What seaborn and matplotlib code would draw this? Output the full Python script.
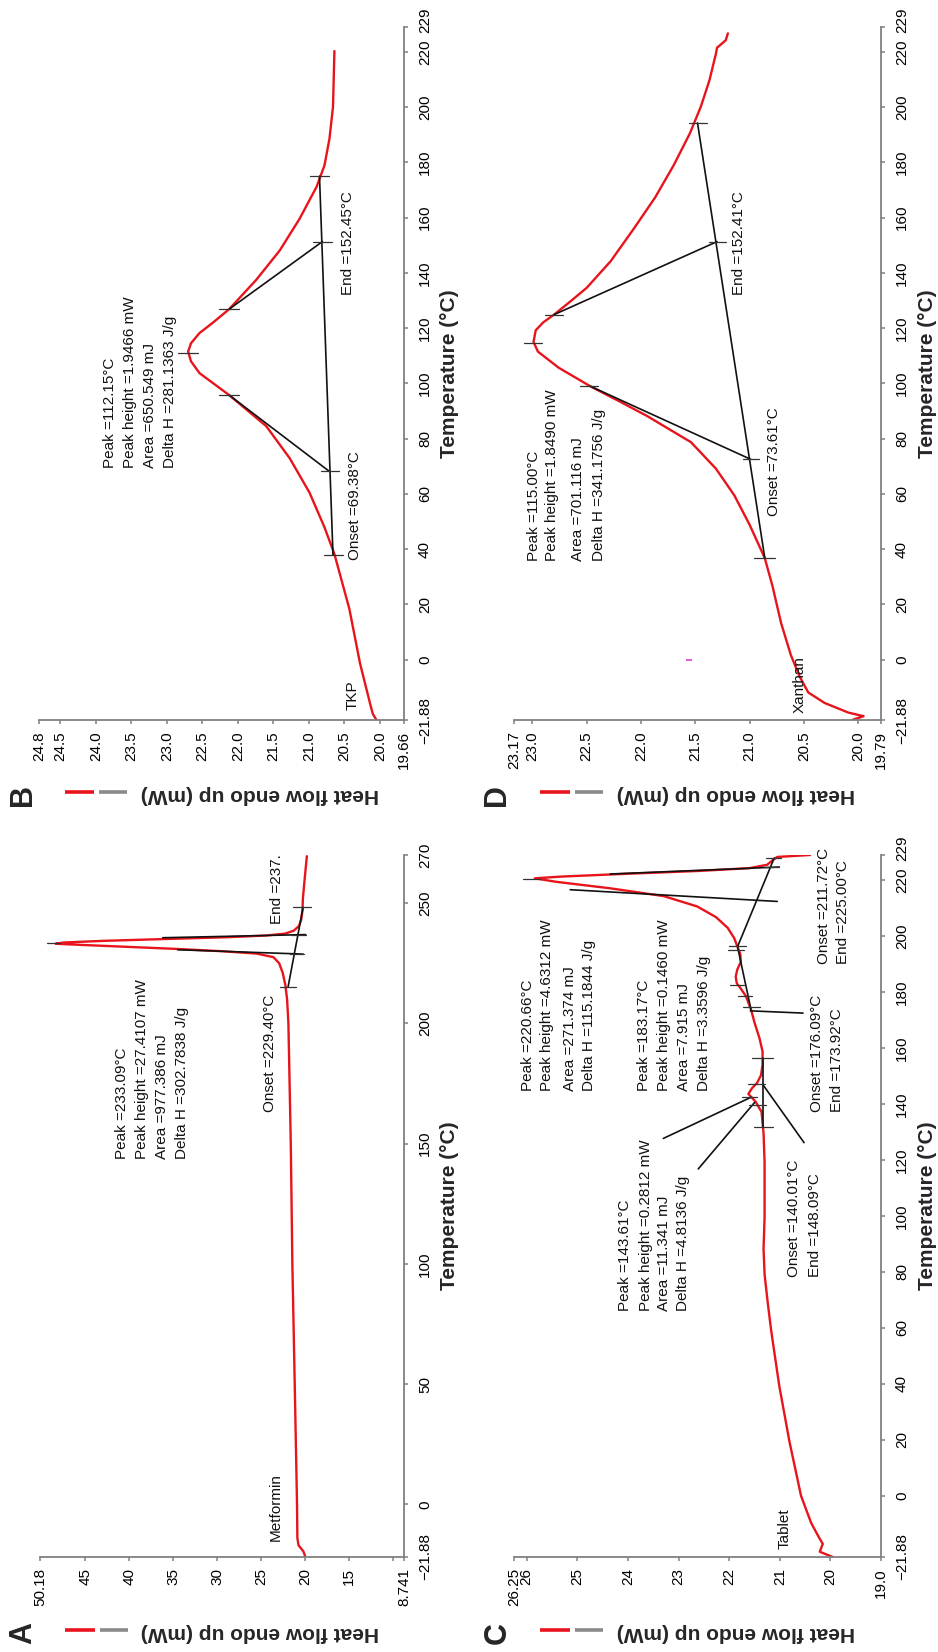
import matplotlib
matplotlib.use("Agg")
import matplotlib.pyplot as plt
from matplotlib.transforms import ScaledTranslation
import seaborn as sns
import pandas as pd

sns.set_theme(style="white")
plt.rcParams['font.family'] = ['Liberation Sans', 'DejaVu Sans']
plt.rcParams['axes.unicode_minus'] = True

RED = "#e8141c"
GRAY = "#8a8a8a"

# ---------------- Panel A : Metformin ----------------
a_temp = [-21.5, -19.5, -17.0, -14.0, 0.0, 50.0, 100.0, 150.0, 200.0, 210.0, 216.0, 221.0,
          225.0, 227.5, 229.0, 230.0, 231.0, 232.0, 232.7, 233.1, 233.6, 234.3, 235.0, 235.8,
          236.5, 237.3, 238.5, 240.5, 243.0, 247.0, 252.0, 260.0, 269.5]
a_heat = [20.0, 20.2, 20.75, 20.88, 20.92, 21.18, 21.45, 21.63, 21.9, 22.05, 22.25, 22.55,
          22.95, 23.6, 25.5, 29.5, 35.0, 41.5, 46.0, 48.4, 47.5, 43.0, 36.5, 29.0,
          24.5, 22.3, 21.3, 20.7, 20.45, 20.3, 20.25, 20.05, 19.8]
a_line_q0 = [21.94, 34.5, 36.2]
a_line_t0 = [215.1, 230.6, 235.6]
a_line_q1 = [20.23, 20.23, 19.93]
a_line_t1 = [248.2, 228.8, 236.9]
a_mark_t = [215.1, 228.8, 236.9, 248.2, 233.4]
a_mark_q0 = [22.9, 21.75, 21.56, 21.37, 49.4]
a_mark_q1 = [21.0, 20.16, 19.85, 19.28, 47.9]
a_xticks = [50.18, 45, 40, 35, 30, 25, 20, 15, 10, 8.741]
a_xticklabels = ["50.18", "45", "40", "35", "30", "25", "20", "15", "", "8.741"]
a_yticks = [-21.88, 0, 50, 100, 150, 200, 250, 270]
a_yticklabels = ["\u221221.88", "0", "50", "100", "150", "200", "250", "270"]
a_texts = ["Peak =233.09\u00b0C", "Peak height =27.4107 mW", "Area =977.386 mJ",
           "Delta H =302.7838 J/g", "Onset =229.40\u00b0C", "End =237.", "Metformin"]
a_text_q = [40.85, 38.57, 36.3, 34.02, 24.0, 23.2, 23.31]
a_text_t = [143.6, 143.6, 143.6, 143.6, 163.1, 241.3, -15.2]

# ---------------- Panel B : TKP ----------------
b_temp = [-21.8, -19.6, -15.7, -1.3, 18.4, 38.2, 47.9, 60.4, 72.9, 84.5, 95.7, 103.7, 108.0,
          111.5, 114.5, 118.2, 122.0, 126.9, 137.5, 148.1, 159.6, 171.2, 178.9, 188.5, 200.1,
          210.0, 220.3]
b_heat = [20.05, 20.10, 20.14, 20.28, 20.43, 20.64, 20.78, 20.99, 21.27, 21.60, 22.12, 22.54,
          22.66, 22.70, 22.66, 22.54, 22.35, 22.12, 21.74, 21.41, 21.13, 20.89, 20.78, 20.71,
          20.66, 20.65, 20.64]
b_line_q0 = [20.66, 22.12, 22.12]
b_line_t0 = [37.8, 95.7, 126.9]
b_line_q1 = [20.85, 20.71, 20.81]
b_line_t1 = [175.0, 68.1, 151.3]
b_mark_t = [37.8, 68.1, 95.7, 110.9, 126.9, 151.3, 175.0]
b_mark_q0 = [20.78, 20.83, 22.26, 22.84, 22.26, 20.94, 20.99]
b_mark_q1 = [20.52, 20.57, 21.98, 22.56, 21.98, 20.68, 20.71]
b_xticks = [24.8, 24.5, 24.0, 23.5, 23.0, 22.5, 22.0, 21.5, 21.0, 20.5, 20.0, 19.66]
b_xticklabels = ["24.8", "24.5", "24.0", "23.5", "23.0", "22.5", "22.0", "21.5", "21.0",
                 "20.5", "20.0", "19.66"]
b_yticks = [-21.88, 0, 20, 40, 60, 80, 100, 120, 140, 160, 180, 200, 220, 229]
b_yticklabels = ["\u221221.88", "0", "20", "40", "60", "80", "100", "120", "140", "160",
                 "180", "200", "220", "229"]
b_texts = ["Peak =112.15\u00b0C", "Peak height =1.9466 mW", "Area =650.549 mJ",
           "Delta H =281.1363 J/g", "Onset =69.38\u00b0C", "End =152.45\u00b0C", "TKP"]
b_text_q = [23.80, 23.52, 23.24, 22.96, 20.35, 20.45, 20.39]
b_text_t = [69.3, 69.3, 69.3, 69.3, 36.0, 132.0, -18.3]

# ---------------- Panel C : Tablet ----------------
c_temp = [-21.9, -20.0, -17.2, -14.4, -9.7, 0, 19.5, 39.3, 59.1, 69.4, 79.2, 88.2, 99.5,
          119.3, 129.6, 137.2, 140.9, 143.6, 145.6, 147.5, 150.3, 154.1, 158.8, 163.5, 169.2,
          173.9, 178.6, 181.0, 183.2, 185.5, 188.0, 190.8, 193.6, 196.4, 199.3, 203.0, 206.8,
          210.6, 214.3, 217.1, 219.4, 220.66, 221.3, 222.3, 223.3, 224.3, 225.5, 227.0,
          228.3, 229.0]
c_heat = [19.95, 20.21, 20.15, 20.24, 20.38, 20.58, 20.81, 21.01, 21.17, 21.24, 21.30, 21.32,
          21.30, 21.30, 21.32, 21.36, 21.48, 21.62, 21.55, 21.45, 21.37, 21.34, 21.34, 21.40,
          21.50, 21.57, 21.67, 21.76, 21.85, 21.87, 21.84, 21.77, 21.78, 21.84, 21.90, 22.03,
          22.26, 22.63, 23.29, 24.35, 25.41, 25.84, 25.30, 24.00, 22.60, 21.60, 21.25, 21.15,
          21.05, 20.40]
c_line_q0 = [21.34, 23.30, 22.61, 20.52, 21.57, 20.54, 21.83, 24.35, 25.14]
c_line_t0 = [131.9, 127.7, 116.8, 126.2, 173.9, 172.5, 196.4, 222.2, 216.6]
c_line_q1 = [21.34, 21.57, 21.50, 21.34, 21.83, 21.58, 21.11, 21.01, 21.05]
c_line_t1 = [156.5, 142.4, 140.5, 147.1, 195.9, 173.3, 227.9, 224.7, 212.4]
c_mark_t = [131.9, 139.6, 142.4, 147.1, 156.5, 182.7, 178.6, 174.8, 196.4, 195.0, 227.9,
            224.7, 220.3]
c_mark_q0 = [21.50, 21.60, 21.75, 21.62, 21.54, 21.98, 21.83, 21.73, 22.00, 22.03, 21.27,
             21.30, 26.07]
c_mark_q1 = [21.14, 21.27, 21.45, 21.29, 21.14, 21.70, 21.54, 21.40, 21.67, 21.70, 20.97,
             21.01, 25.74]
c_xticks = [26.25, 26, 25, 24, 23, 22, 21, 20, 19.0]
c_xticklabels = ["26.25", "26", "25", "24", "23", "22", "21", "20", "19.0"]
c_yticks = b_yticks
c_yticklabels = b_yticklabels
c_texts = ["Peak =220.66\u00b0C", "Peak height =4.6312 mW", "Area =271.374 mJ",
           "Delta H =115.1844 J/g",
           "Peak =183.17\u00b0C", "Peak height =0.1460 mW", "Area =7.915 mJ",
           "Delta H =3.3596 J/g",
           "Peak =143.61\u00b0C", "Peak height =0.2812 mW", "Area =11.341 mJ",
           "Delta H =4.8136 J/g",
           "Onset =140.01\u00b0C", "End =148.09\u00b0C",
           "Onset =176.09\u00b0C", "End =173.92\u00b0C",
           "Onset =211.72\u00b0C", "End =225.00\u00b0C", "Tablet"]
c_text_q = [25.97, 25.59, 25.14, 24.76,
            23.69, 23.29, 22.89, 22.50,
            24.05, 23.65, 23.29, 22.91,
            20.71, 20.31, 20.27, 19.87, 20.13, 19.75, 20.91]
c_text_t = [144.7, 144.7, 144.7, 144.7,
            144.7, 144.7, 144.7, 144.7,
            66.0, 66.0, 66.0, 66.0,
            78.2, 78.2, 137.2, 137.2, 190.1, 190.1, -19.0]

# ---------------- Panel D : Xanthan ----------------
d_temp = [-21.8, -20.5, -19.2, -15.7, -11.9, -6.1, 1.6, 13.2, 26.7, 36.7, 48.8, 59.4, 69.1,
          78.7, 88.3, 93.5, 99.0, 105.7, 111.5, 115.0, 119.2, 122.1, 124.9, 130.0, 134.6,
          144.2, 155.8, 167.3, 178.9, 190.5, 200.1, 209.7, 219.4, 221.5, 224.2, 226.7]
d_heat = [20.05, 19.95, 20.09, 20.31, 20.46, 20.54, 20.62, 20.71, 20.79, 20.86, 21.00, 21.14,
          21.31, 21.54, 21.95, 22.20, 22.47, 22.76, 22.95, 22.99, 22.97, 22.90, 22.80, 22.64,
          22.50, 22.28, 22.07, 21.87, 21.70, 21.55, 21.45, 21.37, 21.31, 21.30, 21.22, 21.20]
d_line_q0 = [20.86, 22.47, 22.80]
d_line_t0 = [36.7, 99.0, 124.9]
d_line_q1 = [21.48, 20.99, 21.30]
d_line_t1 = [194.3, 72.5, 151.3]
d_mark_t = [36.7, 72.5, 151.3, 194.3, 114.5, 99.0, 124.9]
d_mark_q0 = [20.96, 21.06, 21.37, 21.56, 23.08, 22.56, 22.88]
d_mark_q1 = [20.77, 20.91, 21.22, 21.39, 22.91, 22.40, 22.72]
d_dot_q = [21.56]
d_dot_t = [0.0]
d_xticks = [23.17, 23.0, 22.5, 22.0, 21.5, 21.0, 20.5, 20.0, 19.79]
d_xticklabels = ["23.17", "23.0", "22.5", "22.0", "21.5", "21.0", "20.5", "20.0", "19.79"]
d_yticks = b_yticks
d_yticklabels = b_yticklabels
d_texts = ["Peak =115.00\u00b0C", "Peak height =1.8490 mW", "Area =701.116 mJ",
           "Delta H =341.1756 J/g", "Onset =73.61\u00b0C", "End =152.41\u00b0C", "Xanthan"]
d_text_q = [22.99, 22.82, 22.58, 22.39, 20.78, 21.10, 20.54]
d_text_t = [35.7, 35.7, 35.7, 35.7, 52.0, 132.0, -19.3]

panels = [
    dict(letter="A", rect=[0.04264, 0.05751, 0.38806, 0.42494], temp=a_temp, heat=a_heat,
         xlim=(50.18, 8.741), ylim=(-21.88, 270),
         lines=(a_line_q0, a_line_t0, a_line_q1, a_line_t1), marks=(a_mark_t, a_mark_q0, a_mark_q1),
         xticks=a_xticks, xticklabels=a_xticklabels, yticks=a_yticks, yticklabels=a_yticklabels,
         texts=(a_texts, a_text_q, a_text_t), lift_last=False, dots=None),
    dict(letter="B", rect=[0.04158, 0.56416, 0.38913, 0.41949], temp=b_temp, heat=b_heat,
         xlim=(24.8, 19.66), ylim=(-21.88, 229),
         lines=(b_line_q0, b_line_t0, b_line_q1, b_line_t1), marks=(b_mark_t, b_mark_q0, b_mark_q1),
         xticks=b_xticks, xticklabels=b_xticklabels, yticks=b_yticks, yticklabels=b_yticklabels,
         texts=(b_texts, b_text_q, b_text_t), lift_last=True, dots=None),
    dict(letter="C", rect=[0.54797, 0.05751, 0.39126, 0.42494], temp=c_temp, heat=c_heat,
         xlim=(26.25, 19.0), ylim=(-21.88, 229),
         lines=(c_line_q0, c_line_t0, c_line_q1, c_line_t1), marks=(c_mark_t, c_mark_q0, c_mark_q1),
         xticks=c_xticks, xticklabels=c_xticklabels, yticks=c_yticks, yticklabels=c_yticklabels,
         texts=(c_texts, c_text_q, c_text_t), lift_last=True, dots=None),
    dict(letter="D", rect=[0.54797, 0.56416, 0.39126, 0.41949], temp=d_temp, heat=d_heat,
         xlim=(23.17, 19.79), ylim=(-21.88, 229),
         lines=(d_line_q0, d_line_t0, d_line_q1, d_line_t1), marks=(d_mark_t, d_mark_q0, d_mark_q1),
         xticks=d_xticks, xticklabels=d_xticklabels, yticks=d_yticks, yticklabels=d_yticklabels,
         texts=(d_texts, d_text_q, d_text_t), lift_last=True, dots=(d_dot_q, d_dot_t)),
]

fig = plt.figure(figsize=(9.38, 16.52), dpi=100)
fig.patch.set_facecolor("white")

for p in panels:
    ax = fig.add_axes(p["rect"])
    ax.set_facecolor("white")
    df = pd.DataFrame({"Temperature": p["temp"], "Heat": p["heat"]})
    sns.lineplot(data=df, x="Heat", y="Temperature", orient="y", sort=False, estimator=None,
                 color=RED, lw=1.7, ax=ax)
    q0, t0, q1, t1 = p["lines"]
    for a, b, c, d in zip(q0, t0, q1, t1):
        ax.plot([a, c], [b, d], color="#111111", lw=1.2)
    mt, mq0, mq1 = p["marks"]
    for t, a, c in zip(mt, mq0, mq1):
        ax.plot([a, c], [t, t], color="#333333", lw=0.9)
    if p["dots"] is not None:
        ax.plot(p["dots"][0], p["dots"][1], ls="none", marker="_", ms=4, mew=1.2,
                color="#e040e0")
    for s, q, t in zip(*p["texts"]):
        ax.text(q, t, s, rotation=90, ha="center", va="bottom", fontsize=11, color="#111111")

    ax.set_xlim(*p["xlim"])
    ax.set_ylim(*p["ylim"])
    for side in ["top", "left"]:
        ax.spines[side].set_visible(False)
    for side in ["bottom", "right"]:
        ax.spines[side].set_visible(True)
        ax.spines[side].set_color("#808080")
        ax.spines[side].set_linewidth(1.3)
    ax.xaxis.set_ticks_position("bottom")
    ax.yaxis.set_ticks_position("right")
    ax.set_xticks(p["xticks"])
    ax.set_xticklabels(p["xticklabels"], rotation=90)
    ax.set_yticks(p["yticks"])
    ax.set_yticklabels(p["yticklabels"], rotation=90, va="center")
    ax.tick_params(axis="both", direction="out", length=3, width=1.1, color="#808080",
                   labelcolor="black", labelsize=11)
    ax.tick_params(axis="x", pad=5, bottom=True)
    ax.tick_params(axis="y", pad=7, right=True, left=False)
    ax.grid(False)
    if p["lift_last"]:
        lab = ax.get_yticklabels()[-1]
        lab.set_transform(lab.get_transform() + ScaledTranslation(0, 0.065, fig.dpi_scale_trans))

    ax.set_xlabel("Heat flow endo up (mW)", fontsize=15, fontweight="bold", rotation=180)
    ax.xaxis.set_label_coords(0.605, -0.108)
    ax.xaxis.label.set_va("center")
    ax.yaxis.set_label_position("right")
    ax.set_ylabel("Temperature (\u00b0C)", fontsize=15, fontweight="bold", rotation=90)
    ax.yaxis.set_label_coords(1.126, 0.5)
    ax.yaxis.label.set_va("center")
    ax.yaxis.label.set_ha("center")

    ax.plot([0.07, 0.152], [-0.104, -0.104], transform=ax.transAxes, color=RED, lw=2.6,
            clip_on=False, solid_capstyle="butt")
    ax.plot([0.165, 0.242], [-0.104, -0.104], transform=ax.transAxes, color=GRAY, lw=2.6,
            clip_on=False, solid_capstyle="butt")
    ax.text(-0.045, -0.108, p["letter"], transform=ax.transAxes, rotation=90, fontsize=22,
            fontweight="bold", ha="center", va="center")

fig.savefig("out.png", dpi=100, facecolor="white")
